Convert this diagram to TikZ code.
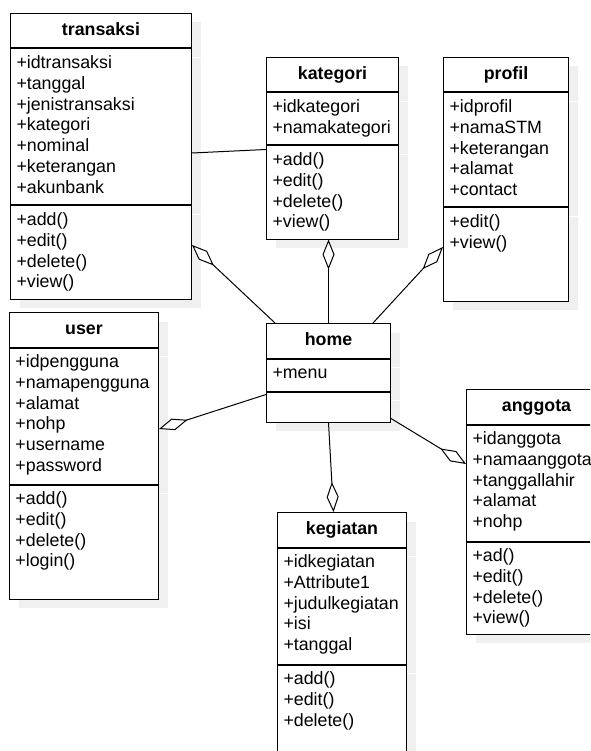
\documentclass[tikz,border=0pt]{standalone}
\usepackage{fontspec}
\setmainfont{Liberation Sans}
\usetikzlibrary{positioning,arrows.meta,shadows}

\begin{document}
\begin{tikzpicture}[x=1pt, y=-1pt, line width=1pt,
    font=\fontsize{17.8pt}{20.8pt}\selectfont,
    box/.style={draw, fill=white, inner xsep=6pt, inner ysep=0pt,
      drop shadow={shadow xshift=9pt, shadow yshift=-9pt, draw=none, fill=black!6, opacity=1}},
    head/.style={box, anchor=north west, align=center,
      font=\fontsize{17.8pt}{20.8pt}\selectfont\bfseries,
      text height=13pt, text depth=3pt, minimum height=34.5pt},
    part/.style={box, below=0pt of #1, align=left, text height=19.5pt},
    agg/.style={-{Diamond[fill=white, length=30pt, width=12pt]}}]
  \useasboundingbox (0,0) rectangle (590,751);
  \clip (0,0) rectangle (590,751);

  \node[head, text width=169pt] (transaksi) at (10,13) {transaksi};
  \node[part=transaksi, text width=169pt, text depth=136.5pt] (transaksi-a)
    {+idtransaksi\\+tanggal\\+jenistransaksi\\+kategori\\+nominal\\+keterangan\\+akunbank};
  \node[part=transaksi-a, text width=169pt, text depth=73.5pt] (transaksi-m)
    {+add()\\+edit()\\+delete()\\+view()};

  \node[head, text width=120pt] (kategori) at (266,57) {kategori};
  \node[part=kategori, text width=120pt, text depth=32.5pt] (kategori-a)
    {+idkategori\\+namakategori};
  \node[part=kategori-a, text width=120pt, text depth=73.5pt] (kategori-m)
    {+add()\\+edit()\\+delete()\\+view()};

  \node[head, text width=113pt] (profil) at (443,57) {profil};
  \node[part=profil, text width=113pt, text depth=94.5pt] (profil-a)
    {+idprofil\\+namaSTM\\+keterangan\\+alamat\\+contact};
  \node[part=profil-a, text width=113pt, text depth=73.5pt] (profil-m)
    {+edit()\\+view()};

  \node[head, text width=137pt] (user) at (9,312) {user};
  \node[part=user, text width=137pt, text depth=116.5pt] (user-a)
    {+idpengguna\\+namapengguna\\+alamat\\+nohp\\+username\\+password};
  \node[part=user-a, text width=137pt, text depth=94.5pt] (user-m)
    {+add()\\+edit()\\+delete()\\+login()};

  \node[head, text width=112pt] (home) at (266,323) {home};
  \node[part=home, text width=112pt, text depth=12.5pt] (home-a) {+menu};
  \node[part=home-a, text width=112pt, text depth=10.5pt] (home-m) {};

  \node[head, text width=128pt] (anggota) at (466,389) {anggota};
  \node[part=anggota, text width=128pt, text depth=96.5pt] (anggota-a)
    {+idanggota\\+namaanggota\\+tanggallahir\\+alamat\\+nohp};
  \node[part=anggota-a, text width=128pt, text depth=72.5pt] (anggota-m)
    {+ad()\\+edit()\\+delete()\\+view()};

  \node[head, text width=117pt] (kegiatan) at (277,512) {kegiatan};
  \node[part=kegiatan, text width=117pt, text depth=96.5pt] (kegiatan-a)
    {+idkegiatan\\+Attribute1\\+judulkegiatan\\+isi\\+tanggal};
  \node[part=kegiatan-a, text width=117pt, text depth=88.5pt] (kegiatan-m)
    {+add()\\+edit()\\+delete()};

  \draw ([yshift=-26pt]transaksi-a.east) -- ([yshift=-4pt]kategori-m.north west);
  \draw[agg] ([xshift=9pt]home.north west) -- ([yshift=7.5pt]transaksi-m.east);
  \draw[agg] (home.north) -- (home.north |- kategori-m.south);
  \draw[agg] ([xshift=-18pt]home.north east) -- ([yshift=7.5pt]profil-m.west);
  \draw[agg] ([yshift=-3pt]home-m.north west) -- ([yshift=-13pt]user-a.east);
  \draw[agg] ([yshift=4pt]home-m.south east) -- ([yshift=19pt]anggota-a.west);
  \draw[agg] (home-m.south) -- ([xshift=-8.5pt]kegiatan.north);
\end{tikzpicture}
\end{document}
